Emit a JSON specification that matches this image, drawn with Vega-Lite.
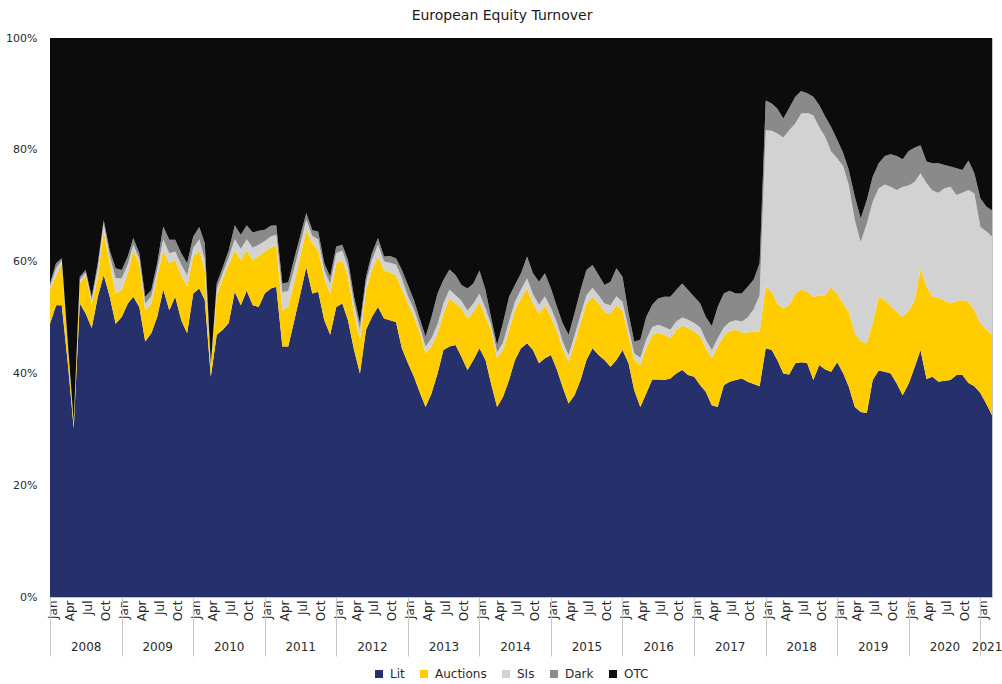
{
  "$schema": "https://vega.github.io/schema/vega-lite/v6.json",
  "width": 942,
  "height": 559,
  "autosize": {"type": "none"},
  "padding": {"left": 50, "top": 38, "right": 10, "bottom": 87},
  "background": "white",
  "title": {"text": "European Equity Turnover", "anchor": "middle", "dx": -19, "offset": 9, "fontSize": 14, "fontWeight": "normal", "font": "DejaVu Sans", "color": "#1a1a1a"},
  "config": {
    "font": "DejaVu Sans",
    "view": {"stroke": "#c4c4c4", "strokeWidth": 1},
    "axis": {"labelColor": "#2a2a2a", "labelFont": "DejaVu Sans"}
  },
  "datasets": {
    "seriesInfo": [
      {"series": "Lit", "rank": 1},
      {"series": "Auctions", "rank": 2},
      {"series": "SIs", "rank": 3},
      {"series": "Dark", "rank": 4},
      {"series": "OTC", "rank": 5}
    ],
    "years": [
      {"year": "2008", "start": "2008-01-01"}, {"year": "2009", "start": "2009-01-01"},
      {"year": "2010", "start": "2010-01-01"}, {"year": "2011", "start": "2011-01-01"},
      {"year": "2012", "start": "2012-01-01"}, {"year": "2013", "start": "2013-01-01"},
      {"year": "2014", "start": "2014-01-01"}, {"year": "2015", "start": "2015-01-01"},
      {"year": "2016", "start": "2016-01-01"}, {"year": "2017", "start": "2017-01-01"},
      {"year": "2018", "start": "2018-01-01"}, {"year": "2019", "start": "2019-01-01"},
      {"year": "2020", "start": "2020-01-01"}, {"year": "2021", "start": "2021-01-01"}
    ],
    "turnover": [
      {"date": "2008-01-01", "Lit": 48.9, "Auctions": 6.1, "SIs": 0.6, "Dark": 0.5, "OTC": 43.9},
      {"date": "2008-02-01", "Lit": 52.2, "Auctions": 5.3, "SIs": 1.3, "Dark": 0.9, "OTC": 40.3},
      {"date": "2008-03-01", "Lit": 52.2, "Auctions": 7.5, "SIs": 0.5, "Dark": 0.4, "OTC": 39.4},
      {"date": "2008-04-01", "Lit": 41.8, "Auctions": 3.0, "SIs": 0.3, "Dark": 0.3, "OTC": 54.6},
      {"date": "2008-05-01", "Lit": 30.2, "Auctions": 0.8, "SIs": 0.2, "Dark": 0.2, "OTC": 68.6},
      {"date": "2008-06-01", "Lit": 52.5, "Auctions": 3.6, "SIs": 0.6, "Dark": 0.6, "OTC": 42.7},
      {"date": "2008-07-01", "Lit": 50.7, "Auctions": 6.9, "SIs": 0.4, "Dark": 0.5, "OTC": 41.5},
      {"date": "2008-08-01", "Lit": 48.1, "Auctions": 4.4, "SIs": 0.6, "Dark": 0.6, "OTC": 46.3},
      {"date": "2008-09-01", "Lit": 53.7, "Auctions": 3.6, "SIs": 1.5, "Dark": 0.9, "OTC": 40.3},
      {"date": "2008-10-01", "Lit": 57.6, "Auctions": 8.0, "SIs": 1.2, "Dark": 0.6, "OTC": 32.6},
      {"date": "2008-11-01", "Lit": 53.7, "Auctions": 6.0, "SIs": 1.3, "Dark": 1.0, "OTC": 38.0},
      {"date": "2008-12-01", "Lit": 48.9, "Auctions": 5.4, "SIs": 2.7, "Dark": 1.8, "OTC": 41.2},
      {"date": "2009-01-01", "Lit": 50.1, "Auctions": 4.8, "SIs": 2.1, "Dark": 1.5, "OTC": 41.5},
      {"date": "2009-02-01", "Lit": 52.5, "Auctions": 5.4, "SIs": 1.6, "Dark": 1.4, "OTC": 39.1},
      {"date": "2009-03-01", "Lit": 53.7, "Auctions": 8.3, "SIs": 1.0, "Dark": 1.2, "OTC": 35.8},
      {"date": "2009-04-01", "Lit": 51.9, "Auctions": 7.8, "SIs": 0.8, "Dark": 1.0, "OTC": 38.5},
      {"date": "2009-05-01", "Lit": 45.7, "Auctions": 5.6, "SIs": 1.2, "Dark": 1.2, "OTC": 46.3},
      {"date": "2009-06-01", "Lit": 47.2, "Auctions": 5.3, "SIs": 1.3, "Dark": 1.1, "OTC": 45.1},
      {"date": "2009-07-01", "Lit": 50.1, "Auctions": 7.2, "SIs": 1.2, "Dark": 1.2, "OTC": 40.3},
      {"date": "2009-08-01", "Lit": 55.0, "Auctions": 7.0, "SIs": 2.0, "Dark": 2.3, "OTC": 33.7},
      {"date": "2009-09-01", "Lit": 51.3, "Auctions": 8.4, "SIs": 1.8, "Dark": 2.4, "OTC": 36.1},
      {"date": "2009-10-01", "Lit": 53.7, "Auctions": 6.6, "SIs": 1.5, "Dark": 2.1, "OTC": 36.1},
      {"date": "2009-11-01", "Lit": 49.5, "Auctions": 8.0, "SIs": 2.0, "Dark": 2.0, "OTC": 38.5},
      {"date": "2009-12-01", "Lit": 47.2, "Auctions": 8.3, "SIs": 2.0, "Dark": 2.2, "OTC": 40.3},
      {"date": "2010-01-01", "Lit": 54.3, "Auctions": 6.7, "SIs": 1.5, "Dark": 2.0, "OTC": 35.5},
      {"date": "2010-02-01", "Lit": 55.2, "Auctions": 6.8, "SIs": 2.0, "Dark": 2.2, "OTC": 33.8},
      {"date": "2010-03-01", "Lit": 53.1, "Auctions": 5.4, "SIs": 2.0, "Dark": 2.8, "OTC": 36.7},
      {"date": "2010-04-01", "Lit": 39.4, "Auctions": 1.6, "SIs": 0.3, "Dark": 0.3, "OTC": 58.4},
      {"date": "2010-05-01", "Lit": 46.9, "Auctions": 7.1, "SIs": 1.0, "Dark": 1.1, "OTC": 43.9},
      {"date": "2010-06-01", "Lit": 47.8, "Auctions": 9.2, "SIs": 1.0, "Dark": 1.0, "OTC": 41.0},
      {"date": "2010-07-01", "Lit": 49.0, "Auctions": 10.5, "SIs": 1.2, "Dark": 1.3, "OTC": 38.0},
      {"date": "2010-08-01", "Lit": 54.6, "Auctions": 7.4, "SIs": 2.0, "Dark": 2.5, "OTC": 33.5},
      {"date": "2010-09-01", "Lit": 52.2, "Auctions": 8.1, "SIs": 2.0, "Dark": 2.5, "OTC": 35.2},
      {"date": "2010-10-01", "Lit": 54.8, "Auctions": 7.2, "SIs": 2.0, "Dark": 2.5, "OTC": 33.5},
      {"date": "2010-11-01", "Lit": 52.2, "Auctions": 8.1, "SIs": 2.2, "Dark": 2.7, "OTC": 34.8},
      {"date": "2010-12-01", "Lit": 51.9, "Auctions": 9.1, "SIs": 2.0, "Dark": 2.5, "OTC": 34.5},
      {"date": "2011-01-01", "Lit": 54.3, "Auctions": 7.5, "SIs": 1.9, "Dark": 2.0, "OTC": 34.3},
      {"date": "2011-02-01", "Lit": 55.2, "Auctions": 7.3, "SIs": 2.0, "Dark": 1.9, "OTC": 33.6},
      {"date": "2011-03-01", "Lit": 55.5, "Auctions": 7.5, "SIs": 1.8, "Dark": 1.7, "OTC": 33.5},
      {"date": "2011-04-01", "Lit": 44.8, "Auctions": 6.5, "SIs": 3.2, "Dark": 1.6, "OTC": 43.9},
      {"date": "2011-05-01", "Lit": 44.8, "Auctions": 7.2, "SIs": 2.8, "Dark": 1.5, "OTC": 43.7},
      {"date": "2011-06-01", "Lit": 49.5, "Auctions": 6.9, "SIs": 2.4, "Dark": 1.8, "OTC": 39.4},
      {"date": "2011-07-01", "Lit": 54.1, "Auctions": 6.8, "SIs": 2.1, "Dark": 1.6, "OTC": 35.4},
      {"date": "2011-08-01", "Lit": 59.0, "Auctions": 6.6, "SIs": 1.9, "Dark": 1.2, "OTC": 31.3},
      {"date": "2011-09-01", "Lit": 54.3, "Auctions": 9.0, "SIs": 1.3, "Dark": 1.0, "OTC": 34.4},
      {"date": "2011-10-01", "Lit": 54.6, "Auctions": 7.4, "SIs": 2.0, "Dark": 1.4, "OTC": 34.6},
      {"date": "2011-11-01", "Lit": 49.5, "Auctions": 7.5, "SIs": 1.5, "Dark": 1.2, "OTC": 40.3},
      {"date": "2011-12-01", "Lit": 46.9, "Auctions": 7.4, "SIs": 1.7, "Dark": 1.3, "OTC": 42.7},
      {"date": "2012-01-01", "Lit": 51.9, "Auctions": 7.8, "SIs": 1.8, "Dark": 1.2, "OTC": 37.3},
      {"date": "2012-02-01", "Lit": 52.5, "Auctions": 7.8, "SIs": 1.7, "Dark": 1.0, "OTC": 37.0},
      {"date": "2012-03-01", "Lit": 49.5, "Auctions": 7.8, "SIs": 1.7, "Dark": 1.3, "OTC": 39.7},
      {"date": "2012-04-01", "Lit": 44.2, "Auctions": 6.5, "SIs": 1.8, "Dark": 1.2, "OTC": 46.3},
      {"date": "2012-05-01", "Lit": 40.0, "Auctions": 6.0, "SIs": 1.8, "Dark": 1.2, "OTC": 51.0},
      {"date": "2012-06-01", "Lit": 47.8, "Auctions": 7.1, "SIs": 1.4, "Dark": 1.0, "OTC": 42.7},
      {"date": "2012-07-01", "Lit": 50.1, "Auctions": 8.4, "SIs": 1.8, "Dark": 1.2, "OTC": 38.5},
      {"date": "2012-08-01", "Lit": 51.9, "Auctions": 9.0, "SIs": 2.1, "Dark": 1.2, "OTC": 35.8},
      {"date": "2012-09-01", "Lit": 49.8, "Auctions": 8.7, "SIs": 1.5, "Dark": 0.9, "OTC": 39.1},
      {"date": "2012-10-01", "Lit": 49.5, "Auctions": 8.5, "SIs": 1.8, "Dark": 1.2, "OTC": 39.0},
      {"date": "2012-11-01", "Lit": 49.2, "Auctions": 8.4, "SIs": 1.9, "Dark": 1.1, "OTC": 39.4},
      {"date": "2012-12-01", "Lit": 44.5, "Auctions": 10.5, "SIs": 2.0, "Dark": 1.5, "OTC": 41.5},
      {"date": "2013-01-01", "Lit": 41.8, "Auctions": 10.7, "SIs": 1.3, "Dark": 2.0, "OTC": 44.2},
      {"date": "2013-02-01", "Lit": 39.4, "Auctions": 10.7, "SIs": 1.4, "Dark": 1.6, "OTC": 46.9},
      {"date": "2013-03-01", "Lit": 36.7, "Auctions": 10.8, "SIs": 1.0, "Dark": 1.4, "OTC": 50.1},
      {"date": "2013-04-01", "Lit": 34.0, "Auctions": 9.6, "SIs": 1.2, "Dark": 1.8, "OTC": 53.4},
      {"date": "2013-05-01", "Lit": 36.4, "Auctions": 8.4, "SIs": 1.5, "Dark": 3.8, "OTC": 49.9},
      {"date": "2013-06-01", "Lit": 40.0, "Auctions": 7.2, "SIs": 1.6, "Dark": 5.5, "OTC": 45.7},
      {"date": "2013-07-01", "Lit": 44.2, "Auctions": 6.5, "SIs": 1.8, "Dark": 4.2, "OTC": 43.3},
      {"date": "2013-08-01", "Lit": 44.8, "Auctions": 8.6, "SIs": 1.6, "Dark": 3.6, "OTC": 41.4},
      {"date": "2013-09-01", "Lit": 45.1, "Auctions": 7.4, "SIs": 1.5, "Dark": 3.6, "OTC": 42.4},
      {"date": "2013-10-01", "Lit": 43.0, "Auctions": 8.6, "SIs": 1.4, "Dark": 2.8, "OTC": 44.2},
      {"date": "2013-11-01", "Lit": 40.6, "Auctions": 9.2, "SIs": 1.4, "Dark": 4.0, "OTC": 44.8},
      {"date": "2013-12-01", "Lit": 42.4, "Auctions": 8.6, "SIs": 1.5, "Dark": 3.6, "OTC": 43.9},
      {"date": "2014-01-01", "Lit": 44.5, "Auctions": 8.3, "SIs": 1.5, "Dark": 4.1, "OTC": 41.6},
      {"date": "2014-02-01", "Lit": 42.4, "Auctions": 7.7, "SIs": 1.5, "Dark": 3.3, "OTC": 45.1},
      {"date": "2014-03-01", "Lit": 38.2, "Auctions": 9.6, "SIs": 1.0, "Dark": 1.2, "OTC": 50.0},
      {"date": "2014-04-01", "Lit": 34.0, "Auctions": 8.7, "SIs": 1.1, "Dark": 1.3, "OTC": 54.9},
      {"date": "2014-05-01", "Lit": 35.8, "Auctions": 8.4, "SIs": 1.3, "Dark": 3.5, "OTC": 51.0},
      {"date": "2014-06-01", "Lit": 38.8, "Auctions": 9.0, "SIs": 1.5, "Dark": 4.4, "OTC": 46.3},
      {"date": "2014-07-01", "Lit": 42.4, "Auctions": 8.9, "SIs": 1.5, "Dark": 3.0, "OTC": 44.2},
      {"date": "2014-08-01", "Lit": 44.5, "Auctions": 8.9, "SIs": 1.6, "Dark": 2.9, "OTC": 42.1},
      {"date": "2014-09-01", "Lit": 45.4, "Auctions": 9.8, "SIs": 1.8, "Dark": 3.9, "OTC": 39.1},
      {"date": "2014-10-01", "Lit": 44.2, "Auctions": 8.3, "SIs": 1.7, "Dark": 3.7, "OTC": 42.1},
      {"date": "2014-11-01", "Lit": 41.8, "Auctions": 8.9, "SIs": 1.6, "Dark": 4.1, "OTC": 43.6},
      {"date": "2014-12-01", "Lit": 42.7, "Auctions": 9.5, "SIs": 1.6, "Dark": 4.1, "OTC": 42.1},
      {"date": "2015-01-01", "Lit": 43.3, "Auctions": 6.8, "SIs": 1.6, "Dark": 3.5, "OTC": 44.8},
      {"date": "2015-02-01", "Lit": 40.6, "Auctions": 6.9, "SIs": 1.5, "Dark": 2.9, "OTC": 48.1},
      {"date": "2015-03-01", "Lit": 37.6, "Auctions": 6.9, "SIs": 1.3, "Dark": 3.2, "OTC": 51.0},
      {"date": "2015-04-01", "Lit": 34.6, "Auctions": 7.5, "SIs": 1.2, "Dark": 3.6, "OTC": 53.1},
      {"date": "2015-05-01", "Lit": 36.1, "Auctions": 9.3, "SIs": 1.4, "Dark": 3.9, "OTC": 49.3},
      {"date": "2015-06-01", "Lit": 38.8, "Auctions": 10.2, "SIs": 1.5, "Dark": 4.4, "OTC": 45.1},
      {"date": "2015-07-01", "Lit": 42.4, "Auctions": 10.1, "SIs": 1.5, "Dark": 4.5, "OTC": 41.5},
      {"date": "2015-08-01", "Lit": 44.5, "Auctions": 9.2, "SIs": 1.6, "Dark": 4.1, "OTC": 40.6},
      {"date": "2015-09-01", "Lit": 43.3, "Auctions": 9.2, "SIs": 1.5, "Dark": 3.6, "OTC": 42.4},
      {"date": "2015-10-01", "Lit": 42.4, "Auctions": 8.6, "SIs": 1.5, "Dark": 3.3, "OTC": 44.2},
      {"date": "2015-11-01", "Lit": 41.2, "Auctions": 9.5, "SIs": 1.5, "Dark": 4.2, "OTC": 43.6},
      {"date": "2015-12-01", "Lit": 42.4, "Auctions": 9.8, "SIs": 1.6, "Dark": 5.0, "OTC": 41.2},
      {"date": "2016-01-01", "Lit": 44.2, "Auctions": 7.1, "SIs": 1.5, "Dark": 4.5, "OTC": 42.7},
      {"date": "2016-02-01", "Lit": 41.8, "Auctions": 4.8, "SIs": 1.4, "Dark": 2.7, "OTC": 49.3},
      {"date": "2016-03-01", "Lit": 37.0, "Auctions": 5.4, "SIs": 1.2, "Dark": 2.1, "OTC": 54.3},
      {"date": "2016-04-01", "Lit": 34.0, "Auctions": 7.5, "SIs": 1.3, "Dark": 3.2, "OTC": 54.0},
      {"date": "2016-05-01", "Lit": 36.4, "Auctions": 8.1, "SIs": 1.5, "Dark": 4.1, "OTC": 49.9},
      {"date": "2016-06-01", "Lit": 38.9, "Auctions": 8.0, "SIs": 1.4, "Dark": 4.0, "OTC": 47.7},
      {"date": "2016-07-01", "Lit": 38.9, "Auctions": 8.4, "SIs": 1.4, "Dark": 4.7, "OTC": 46.6},
      {"date": "2016-08-01", "Lit": 38.8, "Auctions": 8.1, "SIs": 1.4, "Dark": 5.4, "OTC": 46.3},
      {"date": "2016-09-01", "Lit": 39.1, "Auctions": 7.2, "SIs": 1.5, "Dark": 5.9, "OTC": 46.3},
      {"date": "2016-10-01", "Lit": 40.0, "Auctions": 7.8, "SIs": 1.5, "Dark": 5.6, "OTC": 45.1},
      {"date": "2016-11-01", "Lit": 40.6, "Auctions": 7.9, "SIs": 1.5, "Dark": 6.1, "OTC": 43.9},
      {"date": "2016-12-01", "Lit": 39.7, "Auctions": 8.4, "SIs": 1.5, "Dark": 5.3, "OTC": 45.1},
      {"date": "2017-01-01", "Lit": 39.4, "Auctions": 8.1, "SIs": 1.5, "Dark": 4.7, "OTC": 46.3},
      {"date": "2017-02-01", "Lit": 37.9, "Auctions": 8.8, "SIs": 1.5, "Dark": 4.3, "OTC": 47.5},
      {"date": "2017-03-01", "Lit": 36.7, "Auctions": 7.8, "SIs": 1.5, "Dark": 4.1, "OTC": 49.9},
      {"date": "2017-04-01", "Lit": 34.3, "Auctions": 8.4, "SIs": 1.5, "Dark": 4.3, "OTC": 51.5},
      {"date": "2017-05-01", "Lit": 34.0, "Auctions": 10.8, "SIs": 1.5, "Dark": 5.6, "OTC": 48.1},
      {"date": "2017-06-01", "Lit": 37.9, "Auctions": 8.7, "SIs": 1.6, "Dark": 6.1, "OTC": 45.7},
      {"date": "2017-07-01", "Lit": 38.5, "Auctions": 9.1, "SIs": 1.6, "Dark": 5.6, "OTC": 45.2},
      {"date": "2017-08-01", "Lit": 38.8, "Auctions": 9.0, "SIs": 1.7, "Dark": 4.8, "OTC": 45.7},
      {"date": "2017-09-01", "Lit": 39.1, "Auctions": 8.2, "SIs": 2.0, "Dark": 5.0, "OTC": 45.7},
      {"date": "2017-10-01", "Lit": 38.5, "Auctions": 8.8, "SIs": 2.7, "Dark": 5.5, "OTC": 44.5},
      {"date": "2017-11-01", "Lit": 38.1, "Auctions": 9.4, "SIs": 4.0, "Dark": 5.3, "OTC": 43.2},
      {"date": "2017-12-01", "Lit": 37.7, "Auctions": 9.8, "SIs": 6.5, "Dark": 5.7, "OTC": 40.3},
      {"date": "2018-01-01", "Lit": 44.5, "Auctions": 11.0, "SIs": 28.0, "Dark": 5.3, "OTC": 11.2},
      {"date": "2018-02-01", "Lit": 44.2, "Auctions": 10.4, "SIs": 28.8, "Dark": 4.9, "OTC": 11.7},
      {"date": "2018-03-01", "Lit": 42.4, "Auctions": 10.1, "SIs": 30.4, "Dark": 4.5, "OTC": 12.6},
      {"date": "2018-04-01", "Lit": 40.0, "Auctions": 11.6, "SIs": 30.6, "Dark": 3.4, "OTC": 14.4},
      {"date": "2018-05-01", "Lit": 39.8, "Auctions": 12.4, "SIs": 31.3, "Dark": 4.0, "OTC": 12.5},
      {"date": "2018-06-01", "Lit": 41.8, "Auctions": 12.5, "SIs": 30.4, "Dark": 4.8, "OTC": 10.5},
      {"date": "2018-07-01", "Lit": 42.0, "Auctions": 13.0, "SIs": 31.5, "Dark": 4.0, "OTC": 9.5},
      {"date": "2018-08-01", "Lit": 41.8, "Auctions": 12.8, "SIs": 32.0, "Dark": 3.5, "OTC": 9.9},
      {"date": "2018-09-01", "Lit": 38.8, "Auctions": 14.9, "SIs": 32.5, "Dark": 3.3, "OTC": 10.5},
      {"date": "2018-10-01", "Lit": 41.5, "Auctions": 12.4, "SIs": 30.2, "Dark": 3.9, "OTC": 12.0},
      {"date": "2018-11-01", "Lit": 40.7, "Auctions": 13.3, "SIs": 28.3, "Dark": 3.6, "OTC": 14.1},
      {"date": "2018-12-01", "Lit": 40.3, "Auctions": 15.1, "SIs": 24.3, "Dark": 4.4, "OTC": 15.9},
      {"date": "2019-01-01", "Lit": 42.0, "Auctions": 12.3, "SIs": 24.2, "Dark": 3.3, "OTC": 18.2},
      {"date": "2019-02-01", "Lit": 40.0, "Auctions": 12.5, "SIs": 24.5, "Dark": 2.4, "OTC": 20.6},
      {"date": "2019-03-01", "Lit": 37.6, "Auctions": 13.4, "SIs": 22.7, "Dark": 2.7, "OTC": 23.6},
      {"date": "2019-04-01", "Lit": 34.0, "Auctions": 13.2, "SIs": 20.2, "Dark": 4.2, "OTC": 28.4},
      {"date": "2019-05-01", "Lit": 33.1, "Auctions": 12.6, "SIs": 17.8, "Dark": 4.2, "OTC": 32.3},
      {"date": "2019-06-01", "Lit": 32.9, "Auctions": 12.5, "SIs": 21.4, "Dark": 4.2, "OTC": 29.0},
      {"date": "2019-07-01", "Lit": 38.8, "Auctions": 10.2, "SIs": 21.7, "Dark": 4.5, "OTC": 24.8},
      {"date": "2019-08-01", "Lit": 40.5, "Auctions": 13.2, "SIs": 19.4, "Dark": 4.5, "OTC": 22.4},
      {"date": "2019-09-01", "Lit": 40.3, "Auctions": 12.8, "SIs": 20.7, "Dark": 5.1, "OTC": 21.1},
      {"date": "2019-10-01", "Lit": 40.0, "Auctions": 12.0, "SIs": 21.4, "Dark": 5.8, "OTC": 20.8},
      {"date": "2019-11-01", "Lit": 38.2, "Auctions": 12.8, "SIs": 21.8, "Dark": 6.1, "OTC": 21.1},
      {"date": "2019-12-01", "Lit": 36.1, "Auctions": 14.0, "SIs": 23.3, "Dark": 4.9, "OTC": 21.7},
      {"date": "2020-01-01", "Lit": 38.2, "Auctions": 13.1, "SIs": 22.3, "Dark": 6.2, "OTC": 20.2},
      {"date": "2020-02-01", "Lit": 41.2, "Auctions": 11.9, "SIs": 21.2, "Dark": 6.1, "OTC": 19.6},
      {"date": "2020-03-01", "Lit": 44.2, "Auctions": 14.6, "SIs": 17.0, "Dark": 5.0, "OTC": 19.2},
      {"date": "2020-04-01", "Lit": 39.0, "Auctions": 16.5, "SIs": 18.5, "Dark": 3.9, "OTC": 22.1},
      {"date": "2020-05-01", "Lit": 39.4, "Auctions": 14.3, "SIs": 19.0, "Dark": 4.9, "OTC": 22.4},
      {"date": "2020-06-01", "Lit": 38.5, "Auctions": 15.0, "SIs": 18.8, "Dark": 5.3, "OTC": 22.4},
      {"date": "2020-07-01", "Lit": 38.7, "Auctions": 14.4, "SIs": 20.0, "Dark": 4.2, "OTC": 22.7},
      {"date": "2020-08-01", "Lit": 38.8, "Auctions": 13.7, "SIs": 20.9, "Dark": 3.6, "OTC": 23.0},
      {"date": "2020-09-01", "Lit": 39.7, "Auctions": 13.3, "SIs": 18.9, "Dark": 4.8, "OTC": 23.3},
      {"date": "2020-10-01", "Lit": 39.7, "Auctions": 13.4, "SIs": 19.2, "Dark": 4.1, "OTC": 23.6},
      {"date": "2020-11-01", "Lit": 38.3, "Auctions": 14.5, "SIs": 20.0, "Dark": 5.3, "OTC": 21.9},
      {"date": "2020-12-01", "Lit": 37.7, "Auctions": 13.6, "SIs": 20.9, "Dark": 3.6, "OTC": 24.2},
      {"date": "2021-01-01", "Lit": 36.5, "Auctions": 12.5, "SIs": 17.2, "Dark": 5.1, "OTC": 28.7},
      {"date": "2021-02-01", "Lit": 34.5, "Auctions": 13.3, "SIs": 17.6, "Dark": 4.4, "OTC": 30.2},
      {"date": "2021-03-01", "Lit": 32.5, "Auctions": 14.4, "SIs": 17.6, "Dark": 4.7, "OTC": 30.8}
    ]
  },
  "layer": [
    {
      "data": {"name": "turnover"},
      "transform": [
        {"fold": ["Lit", "Auctions", "SIs", "Dark", "OTC"], "as": ["series", "share"]},
        {"lookup": "series", "from": {"data": {"name": "seriesInfo"}, "key": "series", "fields": ["rank"]}}
      ],
      "mark": {"type": "area", "interpolate": "linear", "line": false, "strokeWidth": 0},
      "encoding": {
        "x": {
          "field": "date", "type": "temporal",
          "scale": {"type": "utc", "nice": false, "domain": [{"year": 2008, "month": 1, "date": 1, "utc": true}, {"year": 2021, "month": 3, "date": 1, "utc": true}]},
          "axis": {
            "title": null, "orient": "bottom", "domain": false, "ticks": false, "grid": false,
            "tickCount": {"interval": "month", "step": 3},
            "labelExpr": "utcFormat(datum.value, '%b')",
            "labelAngle": -90, "labelAlign": "right", "labelBaseline": "middle",
            "labelPadding": 3, "labelOffset": 2, "labelFontSize": 12,
            "labelFlush": false, "labelOverlap": false, "labelBound": false
          }
        },
        "y": {
          "field": "share", "type": "quantitative", "stack": "normalize",
          "scale": {"domain": [0, 1], "nice": false},
          "axis": {"title": null, "values": [0, 0.2, 0.4, 0.6, 0.8, 1], "format": ".0%", "domain": false, "ticks": false, "grid": false, "labelPadding": 13, "labelFontSize": 11}
        },
        "color": {
          "field": "series", "type": "nominal",
          "sort": ["Lit", "Auctions", "SIs", "Dark", "OTC"],
          "scale": {"domain": ["Lit", "Auctions", "SIs", "Dark", "OTC"], "range": ["#26316c", "#ffcc00", "#d2d2d2", "#8a8a8a", "#0c0c0c"]},
          "legend": {"orient": "none", "legendX": 323, "legendY": 630, "direction": "horizontal", "title": null, "padding": 0, "symbolType": "square", "symbolSize": 64, "symbolStrokeWidth": 0, "labelFontSize": 12, "labelColor": "#2a2a2a", "labelOffset": 5, "columnPadding": 13}
        },
        "order": {"field": "rank", "type": "quantitative", "sort": "ascending"}
      }
    },
    {
      "data": {"name": "years"},
      "mark": {"type": "rule", "opacity": 0},
      "encoding": {
        "x": {
          "field": "start", "type": "temporal",
          "scale": {"type": "utc", "nice": false, "domain": [{"year": 2008, "month": 1, "date": 1, "utc": true}, {"year": 2021, "month": 3, "date": 1, "utc": true}]},
          "axis": {"title": null, "orient": "bottom", "domain": false, "grid": false, "labels": false, "ticks": true, "tickSize": 59, "tickColor": "#c8c8c8", "tickWidth": 1, "tickCount": {"interval": "year", "step": 1}}
        }
      }
    },
    {
      "data": {"name": "years"},
      "mark": {"type": "rule", "opacity": 0},
      "encoding": {
        "x": {
          "field": "start", "type": "temporal",
          "scale": {"type": "utc", "nice": false, "domain": [{"year": 2008, "month": 1, "date": 1, "utc": true}, {"year": 2021, "month": 3, "date": 1, "utc": true}]},
          "axis": {
            "title": null, "orient": "bottom", "domain": false, "grid": false, "ticks": false,
            "values": [
              {"year": 2008, "month": 7, "date": 1, "utc": true}, {"year": 2009, "month": 7, "date": 1, "utc": true},
              {"year": 2010, "month": 7, "date": 1, "utc": true}, {"year": 2011, "month": 7, "date": 1, "utc": true},
              {"year": 2012, "month": 7, "date": 1, "utc": true}, {"year": 2013, "month": 7, "date": 1, "utc": true},
              {"year": 2014, "month": 7, "date": 1, "utc": true}, {"year": 2015, "month": 7, "date": 1, "utc": true},
              {"year": 2016, "month": 7, "date": 1, "utc": true}, {"year": 2017, "month": 7, "date": 1, "utc": true},
              {"year": 2018, "month": 7, "date": 1, "utc": true}, {"year": 2019, "month": 7, "date": 1, "utc": true},
              {"year": 2020, "month": 7, "date": 1, "utc": true}, {"year": 2021, "month": 2, "date": 1, "utc": true}
            ],
            "labelExpr": "utcFormat(datum.value, '%Y')",
            "labelPadding": 44, "labelFontSize": 12, "labelFlush": false, "labelOverlap": false, "labelBound": false
          }
        }
      }
    }
  ],
  "resolve": {"axis": {"x": "independent"}}
}
